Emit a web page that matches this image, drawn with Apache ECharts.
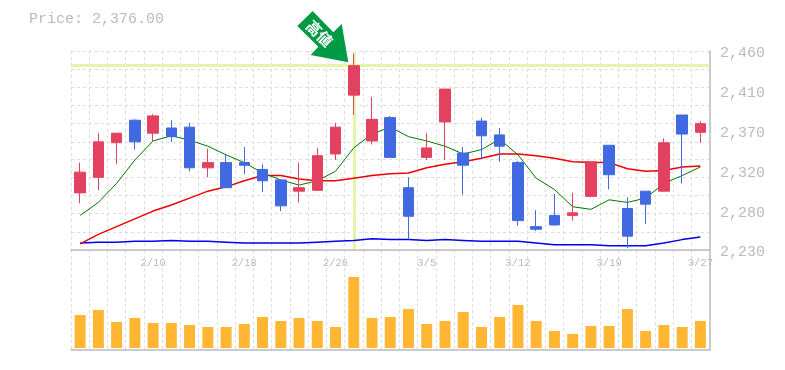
<!DOCTYPE html>
<html><head><meta charset="utf-8">
<style>html,body{margin:0;padding:0;background:#fff}#c{width:785px;height:370px}</style>
<script src="https://cdn.jsdelivr.net/npm/echarts@6/dist/echarts.min.js"></script>
</head><body><div id="c"></div>
<script>
const categories = ['2/4','2/5','2/6','2/7','2/10','2/12','2/13','2/14','2/17','2/18','2/19','2/20','2/21','2/25','2/26','2/27','2/28','3/2','3/3','3/5','3/6','3/9','3/10','3/11','3/12','3/13','3/16','3/17','3/18','3/19','3/23','3/24','3/25','3/26','3/27'];
// open, close, low, high
const candles = [
[2296,2320,2284,2331],[2314,2355,2299,2365],[2354,2365,2329,2365],[2380,2355,2346,2381],[2365,2385,2355,2387],
[2371,2361,2355,2380],[2372,2325,2321,2377],[2325,2331,2314,2347],[2331,2302,2302,2340],[2331,2328,2318,2349],
[2323,2310,2297,2329],[2311,2281,2275,2311],[2298,2302,2285,2331],[2299,2339,2298,2348],[2341,2372,2334,2377],
[2409,2443,2386,2457],[2356,2381,2352,2407],[2383,2337,2337,2385],[2302,2269,2242,2314],[2337,2348,2334,2365],
[2378,2416,2334,2416],[2342,2328,2294,2349],[2379,2362,2335,2383],[2363,2350,2332,2371],[2331,2264,2258,2333],
[2257,2254,2252,2276],[2270,2259,2258,2295],[2270,2273,2264,2296],[2292,2332,2291,2332],[2351,2317,2300,2351],
[2278,2246,2232,2291],[2298,2283,2260,2298],[2298,2354,2298,2359],[2386,2364,2307,2386],[2366,2376,2354,2379]];
const maShort = [2270,2285,2307,2334,2356,2362,2357,2350,2340,2331,2319,2311,2305,2310,2321,2348,2364,2372,2361,2356,2350,2341,2346,2358,2340,2313,2300,2280,2277,2288,2285,2290,2307,2316,2326];
const maMid = [2237,2248,2257,2266,2275,2282,2290,2298,2303,2310,2316,2316,2312,2310,2310,2313,2316,2318,2319,2325,2329,2332,2336,2341,2341,2339,2336,2332,2331,2331,2324,2321,2322,2326,2327];
const maLong = [2238,2239,2239,2240,2240,2241,2240,2240,2239,2238,2238,2238,2238,2239,2240,2241,2243,2242,2242,2241,2242,2241,2240,2240,2240,2238,2236,2236,2236,2235,2235,2235,2238,2242,2245];
const volumes = [3300,3800,2600,3000,2500,2500,2300,2100,2100,2400,3100,2700,3000,2700,2100,7100,3000,3100,3900,2400,2700,3600,2100,3100,4300,2700,1700,1400,2200,2200,3900,1700,2300,2100,2700];
const priceTicks = [2230,2251,2272,2293,2314,2335,2355,2376,2397,2418,2439,2460];
const priceLabels = [2230,2276,2322,2368,2414,2460];
const highLevel = 2443, highIndex = 15, priceTitle = 'Price: 2,376.00', arrowText = '高値';

const gray='#bbb', font='Liberation Mono';
const chart = echarts.init(document.getElementById('c'),null,{renderer:'canvas'});
const grids=[{left:71,right:75.5,top:51,height:199},{left:71,right:75.5,top:250,height:100}];
const xa=(i,lab)=>({type:'category',gridIndex:i,data:categories,boundaryGap:true,
  axisLine:{show:true,onZero:false,lineStyle:{color:gray,width:1.5}},axisTick:{show:false,interval:0},
  splitLine:{show:true,interval:0,lineStyle:{color:'#ddd',type:[3,3],width:1}},
  axisLabel:lab?{show:true,interval:(k)=>k%5===4,color:gray,fontFamily:font,fontSize:10.5,margin:8}:{show:false}});
chart.setOption({
 animation:false,
 title:{text:priceTitle,left:24,top:7,textStyle:{color:gray,fontFamily:font,fontSize:15,fontWeight:'normal'}},
 grid:grids,
 xAxis:[xa(0,true),xa(1,false)],
 yAxis:[
  {type:'value',gridIndex:0,position:'right',min:2230,max:2460,
   axisLine:{show:true,lineStyle:{color:gray,width:1.5}},
   axisTick:{show:false,customValues:priceTicks},
   splitLine:{show:true,lineStyle:{color:'#ddd',type:[3,3],width:1}},
   axisLabel:{show:true,customValues:priceLabels,color:gray,fontFamily:font,fontSize:15,margin:10.5,verticalAlign:'top',lineHeight:5,
     formatter:v=>(Math.round(v/10)*10).toLocaleString('en-US')}},
  {type:'value',gridIndex:1,position:'right',min:-200,max:9800,
   axisLine:{show:true,lineStyle:{color:gray,width:1.5}},axisTick:{show:false},splitLine:{show:false},axisLabel:{show:false}}
 ],
 series:[
  {type:'line',name:'level',xAxisIndex:0,yAxisIndex:0,data:[],z:1,silent:true,
   markLine:{silent:true,symbol:'none',label:{show:false},z:1,lineStyle:{color:'#E3F5A8',width:3,type:'solid'},
    data:[{yAxis:highLevel},[{coord:[categories[highIndex],2460]},{coord:[categories[highIndex],2231]}]]}},
  {type:'line',name:'long',data:maLong,symbol:'none',z:2,lineStyle:{color:'#0000ee',width:1.5}},
  {type:'line',name:'mid',data:maMid,symbol:'none',z:2,lineStyle:{color:'#ee0000',width:1.5}},
  {type:'line',name:'short',data:maShort,symbol:'none',z:2,lineStyle:{color:'#007700',width:1}},
  {type:'candlestick',name:'price',data:candles,barWidth:11,z:3,
   itemStyle:{color:'#E2425F',color0:'#4169E1',borderColor:'#E2425F',borderColor0:'#4169E1',borderWidth:1}},
  {type:'bar',name:'volume',xAxisIndex:1,yAxisIndex:1,data:volumes,barWidth:11,itemStyle:{color:'#FFB733'}}
 ],
 graphic:[
  {type:'polygon',z:10,shape:{points:[[312.7,11],[297.3,26],[318.3,46.7],[310.7,55],[348.3,62.3],[341.7,24],[333.3,32.3]]},style:{fill:'#009944'}},
  {type:'text',z:11,x:319.5,y:33.5,rotation:-Math.PI/4,style:{text:arrowText,fill:'#fff',font:'bold 15px "Noto Sans CJK JP"',align:'center',verticalAlign:'middle'}}
 ]
});
</script></body></html>
